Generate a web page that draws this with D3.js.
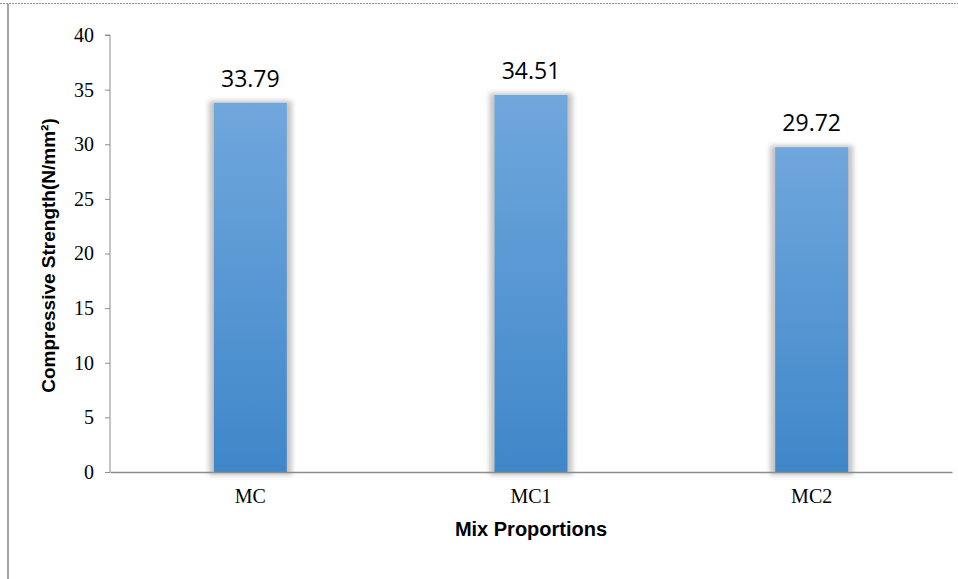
<!DOCTYPE html>
<html>
<head>
<meta charset="utf-8">
<script src="https://cdn.jsdelivr.net/npm/d3@7"></script>
<style>
body { margin: 0; background: #fff; }
</style>
</head>
<body>
<div id="chartArea"></div>
<script>
const categories = ["MC", "MC1", "MC2"];
const strengths = [33.79, 34.51, 29.72];
const yTicks = [0, 5, 10, 15, 20, 25, 30, 35, 40];

const W = 958, H = 579;
const margin = { top: 35, right: 6, bottom: 107, left: 110 },
width = W - margin.left - margin.right,
height = H - margin.top - margin.bottom;

const root = d3.select("#chartArea")
.append("svg")
.attr("width", W)
.attr("height", H);

// frame lines of the pasted image
root.append("line")
.attr("x1", 0).attr("x2", W).attr("y1", 3.5).attr("y2", 3.5)
.attr("stroke", "#8a94a8").attr("stroke-width", 1).attr("stroke-dasharray", "2,1");
root.append("line")
.attr("x1", 8).attr("x2", 8).attr("y1", 4).attr("y2", H)
.attr("stroke", "#a6a6a6").attr("stroke-width", 2);

const defs = root.append("defs");
const grad = defs.append("linearGradient")
.attr("id", "barGrad").attr("x1", 0).attr("x2", 0).attr("y1", 0).attr("y2", 1);
grad.append("stop").attr("offset", "0%").attr("stop-color", "#70a7dd");
grad.append("stop").attr("offset", "100%").attr("stop-color", "#3f87c9");

const blur = defs.append("filter").attr("id", "shadow")
.attr("x", "-20%").attr("y", "-5%").attr("width", "140%").attr("height", "110%");
blur.append("feGaussianBlur").attr("stdDeviation", 2.5);

const svg = root.append("g")
.attr("transform", `translate(${margin.left},${margin.top})`);

const x = d3.scaleBand()
.domain(categories)
.range([0, width])
.paddingInner(0.74)
.paddingOuter(0.37);

const y = d3.scaleLinear()
.domain([0, 40])
.range([height, 0]);

// shadows
svg.selectAll(".shadow")
.data(strengths)
.enter()
.append("rect")
.attr("class", "shadow")
.attr("x", (d, i) => x(categories[i]) - 5)
.attr("y", d => y(d) - 2)
.attr("width", x.bandwidth() + 10)
.attr("height", d => height - y(d) + 5)
.attr("fill", "#c4c4c4")
.attr("filter", "url(#shadow)");

svg.selectAll(".bar")
.data(strengths)
.enter()
.append("rect")
.attr("class", "bar")
.attr("x", (d, i) => x(categories[i]))
.attr("y", d => y(d))
.attr("width", x.bandwidth())
.attr("height", d => height - y(d))
.attr("fill", "url(#barGrad)");

svg.selectAll(".val")
.data(strengths)
.enter()
.append("text")
.attr("x", (d, i) => x(categories[i]) + x.bandwidth() / 2)
.attr("y", d => y(d) - 16)
.attr("text-anchor", "middle")
.style("font-family", "'Open Sans', sans-serif")
.style("font-size", "23px")
.style("fill", "#000")
.text(d => d.toFixed(2));

// axes
const yAxis = svg.append("g")
.call(d3.axisLeft(y).tickValues(yTicks).tickSize(5).tickPadding(11));
yAxis.select(".domain").attr("stroke", "#8c8c8c").attr("d", `M-5,0H0V${height}`);
yAxis.selectAll(".tick line").attr("stroke", "#8c8c8c");
yAxis.selectAll(".tick text")
.style("font-family", "'Liberation Serif', 'Times New Roman', serif")
.style("font-size", "20px")
.style("fill", "#000");

const xAxis = svg.append("g")
.attr("transform", `translate(0,${height})`)
.call(d3.axisBottom(x).tickSize(0).tickPadding(17));
xAxis.select(".domain").attr("stroke", "#8c8c8c").attr("stroke-width", 1.5);
xAxis.selectAll(".tick text")
.style("font-family", "'Liberation Serif', 'Times New Roman', serif")
.style("font-size", "20px")
.style("fill", "#000");

svg.append("text")
.attr("x", width / 2)
.attr("y", height + 64)
.attr("text-anchor", "middle")
.style("font-family", "'Liberation Sans', Arial, sans-serif")
.style("font-weight", "bold")
.style("font-size", "20px")
.text("Mix Proportions");

svg.append("text")
.attr("text-anchor", "middle")
.attr("transform", `translate(${-55}, ${height / 2 + 2}) rotate(-90)`)
.style("font-family", "'Liberation Sans', Arial, sans-serif")
.style("font-weight", "bold")
.style("font-size", "19px")
.text("Compressive Strength(N/mm²)");
</script>
</body>
</html>
